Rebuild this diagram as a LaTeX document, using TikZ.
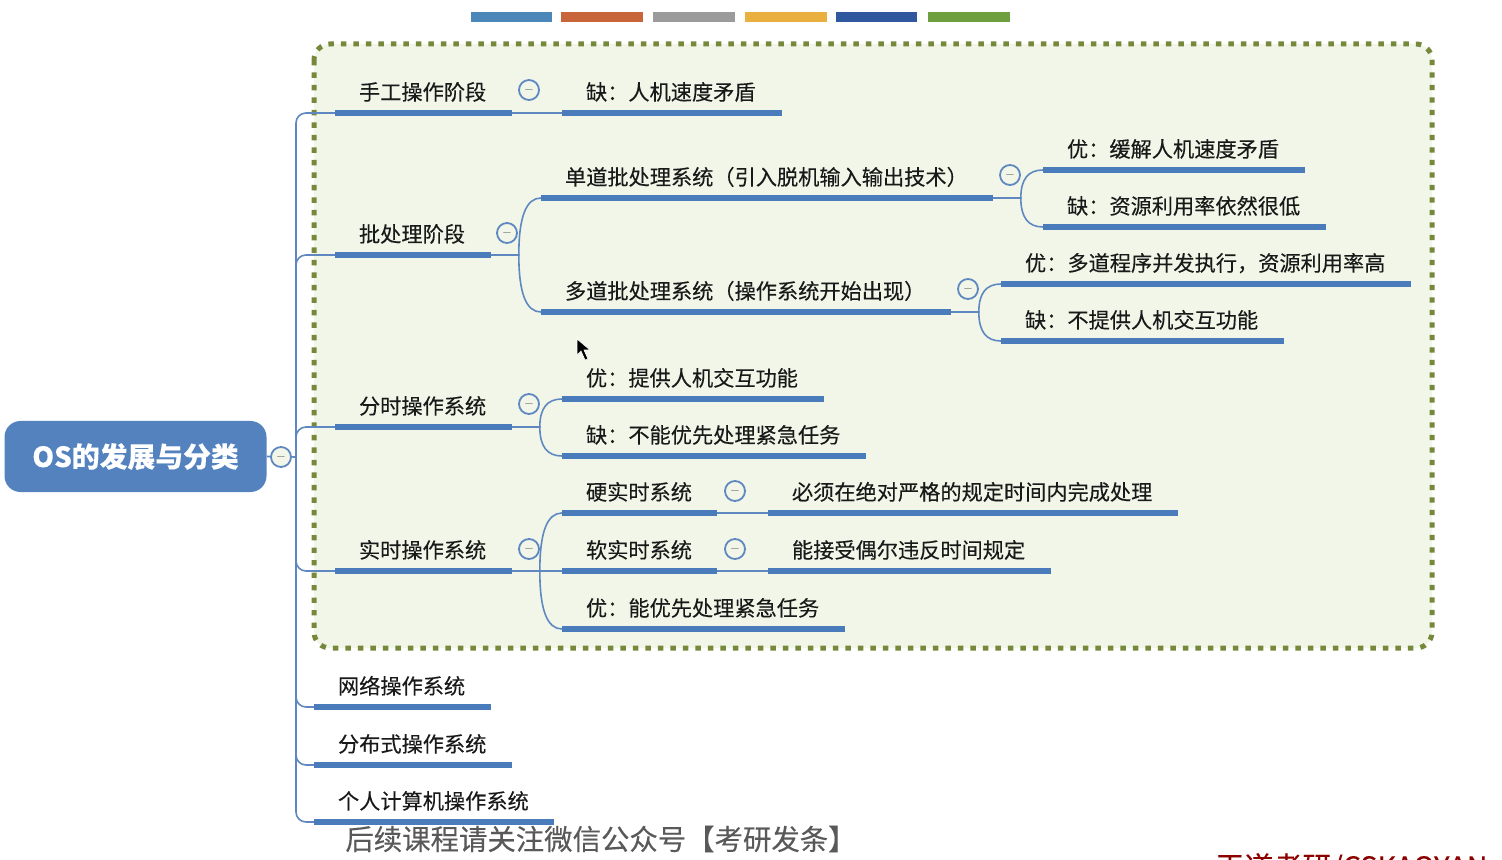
\documentclass[tikz,border=0pt]{standalone}
\usepackage{fontspec}
\setmainfont{Noto Sans CJK SC}[FakeBold=0.2]
\usetikzlibrary{calc}
\definecolor{mapblue}{HTML}{4A7BBB}
\definecolor{linkblue}{HTML}{5F88C0}
\definecolor{boxfill}{HTML}{F1F6E9}
\definecolor{boxline}{HTML}{76883A}
\definecolor{legA}{HTML}{4C87B9}
\definecolor{legB}{HTML}{C9653A}
\definecolor{legC}{HTML}{9B9B9B}
\definecolor{legD}{HTML}{E9B040}
\definecolor{legE}{HTML}{30589F}
\definecolor{legF}{HTML}{6FA040}
\tikzset{
  topic/.style={anchor=south west,inner sep=0pt,text depth=6.3pt,text height=9pt,font=\fontsize{10.6}{12}\selectfont,text=black!90},
  underbar/.style={draw=mapblue,line width=2.7pt},
  link/.style={draw=linkblue,line width=0.8pt},
  fold/.style={circle,draw=linkblue,line width=0.9pt,fill=boxfill,minimum size=10pt,inner sep=0pt,font=\tiny,text=black!60},
}
\begin{document}
\begin{tikzpicture}[x=0.5pt,y=-0.5pt]
\useasboundingbox (0,0) rectangle (1502,860);
\foreach \a/\b/\c in {471/552/legA,561/643/legB,653/735/legC,745/827/legD,836/917/legE,928/1010/legF}{
\fill[\c] (\a,12) rectangle (\b,22);
}
\draw[boxline,fill=boxfill,line width=2.5pt,dash pattern=on 2.7pt off 3.55pt,rounded corners=8pt] (314,44) rectangle (1432,648);

\node[fill=mapblue!95,rounded corners=8pt,minimum width=131pt,minimum height=35.5pt,inner sep=0pt,text=white,font=\fontsize{13.9}{15}\selectfont\bfseries] (root) at (135.5,456.5) {\raisebox{-1.2pt}{OS的发展与分类}};
\coordinate (trunk) at (296,457);

\foreach \n/\l/\r/\y/\t in {
  a/335/511/113/手工操作阶段,
  a1/562/781/113/缺：人机速度矛盾,
  b/335/490/255/批处理阶段,
  b1/541/992/198/单道批处理系统（引入脱机输入输出技术）,
  b2/541/950/312/多道批处理系统（操作系统开始出现）,
  b11/1043/1304/170/优：缓解人机速度矛盾,
  b12/1043/1325/227/缺：资源利用率依然很低,
  b21/1001/1410/284/优：多道程序并发执行，资源利用率高,
  b22/1001/1283/341/缺：不提供人机交互功能,
  c/335/511/427/分时操作系统,
  c1/562/823/399/优：提供人机交互功能,
  c2/562/865/456/缺：不能优先处理紧急任务,
  d/335/511/571/实时操作系统,
  d1/562/716/513/硬实时系统,
  d2/562/716/571/软实时系统,
  d3/562/844/629/优：能优先处理紧急任务,
  d11/768/1177/513/必须在绝对严格的规定时间内完成处理,
  d21/768/1050/571/能接受偶尔违反时间规定,
  e/314/490/707/网络操作系统,
  f/314/511/765/分布式操作系统,
  g/314/553/822/个人计算机操作系统}{
\pgfmathsetmacro{\wdt}{(\r-\l)*0.5}
\node[topic,text width=\wdt pt] (\n) at (\l,\y) {\hspace*{11.8pt}\t};
\draw[underbar] (\n.south west) -- (\n.south east);
}

\draw[link] (root.east) -- (trunk);
\foreach \c in {a,b,c,d,e,f,g}{
\draw[link,rounded corners=5pt] (trunk) -- (trunk |- \c.south west) -- (\c.south west);
}
\foreach \p/\c in {a/a1,d1/d11,d2/d21}{
\draw[link] (\p.south east) -- (\c.south west);
}
\foreach \p/\c in {b/b1,b/b2,b1/b11,b1/b12,b2/b21,b2/b22,c/c1,c/c2,d/d1,d/d2,d/d3}{
\draw[link] (\p.south east) -- ++(28,0) coordinate (m) .. controls ($(m)!0.67!(m |- \c.south west)$) and ($(\c.south west)!0.67!(m |- \c.south west)$) .. (\c.south west);
}

\foreach \n/\x/\y in {ta/529/90,tb/507/233,tb1/1010/175,tb2/968/289,tc/529/404,td/529/549,td1/735/491,td2/735/549,tr/281/457}{
\node[fold] (\n) at (\x,\y) {$-$};
}

\fill[black,draw=white,line width=0.3pt] (577,339) -- (577,355) -- (581,351) -- (585,360) -- (588,359) -- (584,350) -- (590,350) -- cycle;

\node[anchor=west,inner sep=0pt,text=black!65,font=\fontsize{14.2}{16}\selectfont] (note) at (345,839) {后续课程请关注微信公众号【考研发条】};
\begin{scope}
\clip (0,0) rectangle (1502,860);
\node[anchor=west,inner sep=0pt,text=red!55!black,font=\fontsize{14.5}{16}\selectfont] (mark) at (1215,868) {王道考研/CSKAOYAN};
\end{scope}
\end{tikzpicture}
\end{document}
